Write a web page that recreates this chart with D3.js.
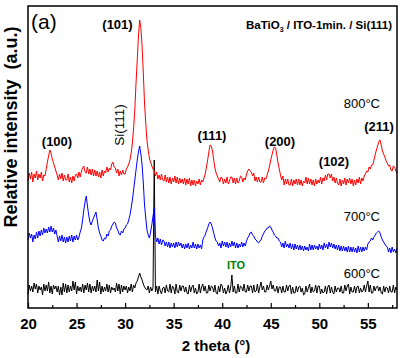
<!DOCTYPE html>
<html>
<head>
<meta charset="utf-8">
<script src="https://cdn.jsdelivr.net/npm/d3@7"></script>
<style>
  body { margin: 0; background: #fff; }
  svg text { font-family: "Liberation Sans", Arial, sans-serif; }
</style>
</head>
<body>
<svg width="400" height="358"></svg>
<script>
// 2 theta grid: 20 .. 58 deg, every 0.125 deg (one row = one degree, 8 values)
const thetaStart = 20;
const thetaStep = 0.125;

// 800 C trace (red)
const red800 = [
  127,135,129,136,126,134,130,137,  128,134,130,136,127,133,132,139,
  146,152,158,155,149,145,141,137,  133,128,134,129,135,127,133,128,
  128,134,126,131,125,132,127,133,  134,130,136,131,137,140,142,136,
  135,141,134,139,133,139,132,138,  132,137,131,136,130,138,132,137,
  135,141,136,140,138,144,146,141,  140,135,139,132,137,133,138,134,
  134,139,141,144,148,155,165,180,  198,225,248,272,288,280,262,235,
  205,185,168,158,150,146,142,139,  137,132,136,129,133,128,134,128,
  127,133,126,131,125,131,124,130,  126,132,125,131,124,130,125,129,
  124,130,123,129,124,130,122,128,  123,128,122,127,124,129,123,128,
  126,130,134,141,148,156,163,162,  157,148,140,135,132,129,126,131,
  130,124,129,125,131,124,127,131,  131,125,130,124,130,125,127,132,
  131,126,130,128,134,137,139,137,  136,132,135,127,131,126,131,126,
  126,131,125,130,129,133,137,142,  148,153,158,161,160,153,145,139,
  133,128,132,123,129,124,129,123,  123,129,122,128,124,129,123,129,
  123,128,122,127,125,131,124,130,  124,129,123,128,122,129,124,128,
  125,131,124,130,127,133,128,134,  134,130,134,127,131,125,130,125,
  123,129,122,128,124,130,123,129,  125,130,124,129,122,128,123,129,
  125,131,124,130,127,132,134,137,  136,141,139,143,143,148,153,158,
  162,166,168,163,157,154,151,147,  145,142,143,138,137,142,141,137,
  135
];

// 700 C trace (blue)
const blue700 = [
  68,75,70,74,66,73,69,76,  70,77,72,78,73,80,75,79,
  75,81,76,82,76,80,74,78,  72,66,72,67,73,66,71,65,
  71,66,72,67,73,66,72,68,  73,68,71,76,80,88,98,106,
  112,102,93,86,83,87,90,93,  96,88,80,75,72,68,67,70,
  69,74,72,77,78,82,84,86,  85,80,78,74,73,77,75,79,
  80,83,84,88,93,100,108,118,  128,138,148,156,162,154,143,125,
  103,90,78,73,70,76,83,92,  100,72,66,70,64,69,63,68,
  67,62,66,61,66,60,65,61,  65,60,66,61,66,62,65,60,
  64,59,64,60,65,59,63,60,  66,60,64,59,64,60,63,59,
  68,71,73,77,80,84,86,84,  80,75,70,67,66,62,65,60,
  67,62,66,61,66,60,65,61,  67,62,66,60,65,60,64,61,
  66,61,65,62,67,70,72,75,  76,73,72,69,68,66,65,67,
  68,72,74,77,78,80,80,82,  81,78,76,73,72,70,70,67,
  66,61,65,60,67,61,64,60,  65,59,64,58,64,59,63,58,
  63,58,62,57,62,58,61,57,  64,58,63,58,63,59,62,58,
  64,59,63,58,65,60,64,59,  66,61,65,60,64,59,63,58,
  63,57,62,57,62,57,61,56,  62,56,61,56,61,56,60,55,
  62,56,61,56,61,57,61,58,  64,66,67,70,68,71,73,75,
  76,77,75,71,68,66,64,62,  61,56,60,55,61,56,59,55,
  60
];

// 600 C trace (black)
const black600 = [
  14,23,17,22,16,25,19,24,  15,22,18,21,13,24,17,23,
  17,26,15,22,14,23,19,22,  16,22,13,21,13,25,16,24,
  15,23,16,22,17,27,18,26,  14,22,17,21,16,24,15,23,
  18,25,16,24,15,22,17,22,  16,28,17,26,14,22,16,21,
  17,24,16,23,15,21,18,20,  16,25,17,24,14,23,16,22,
  18,22,15,21,17,24,16,23,  20,25,27,31,35,31,28,24,
  21,19,18,22,15,21,17,20,  148,16,22,14,22,17,14,20,
  21,15,23,17,16,24,15,22,  20,14,24,16,15,23,17,22,
  22,16,21,15,14,23,16,21,  23,15,20,14,16,24,15,21,
  24,17,22,15,15,23,17,22,  21,16,23,15,14,22,16,24,
  22,15,20,14,17,23,15,21,  33,16,22,15,15,24,16,22,
  21,17,24,16,16,23,17,22,  22,15,23,16,17,24,15,21,
  26,18,22,16,16,23,18,22,  27,19,23,17,17,22,15,21,
  21,15,22,16,16,23,17,22,  23,14,21,15,15,22,16,21,
  22,16,20,13,14,22,16,20,  24,15,21,16,17,23,15,22,
  22,14,19,15,16,22,14,21,  23,15,21,16,14,22,16,20,
  20,16,22,15,15,23,17,22,  24,14,21,16,16,22,15,21,
  22,15,20,16,17,23,16,22,  27,16,23,15,15,22,17,21,
  22,17,21,15,14,22,16,21,  20,15,22,16,16,23,15,21,
  18
];

const majorTicks = [20, 25, 30, 35, 40, 45, 50, 55];
const minorTicks = [22.5, 27.5, 32.5, 37.5, 42.5, 47.5, 52.5, 57.5];

const peakLabels = [
  { text: '(100)', x: 57, y: 146 },
  { text: '(101)', x: 117.5, y: 29 },
  { text: '(111)', x: 212, y: 140 },
  { text: '(200)', x: 280, y: 146 },
  { text: '(102)', x: 334, y: 166 },
  { text: '(211)', x: 379, y: 131 }
];
const tempLabels = [
  { text: '800°C', y: 108 },
  { text: '700°C', y: 221 },
  { text: '600°C', y: 278 }
];

const svg = d3.select('svg');
const width = +svg.attr('width');
const height = +svg.attr('height');
const margin = { top: 6, right: 3, bottom: 50, left: 28 };
const innerWidth = width - margin.left - margin.right;
const innerHeight = height - margin.top - margin.bottom;

const xScale = d3.scaleLinear().domain([20, 58]).range([0, innerWidth]);
const yScale = d3.scaleLinear().domain([0, 302]).range([innerHeight, 0]);

const g = svg.append('g')
  .attr('transform', `translate(${margin.left},${margin.top})`);

const line = d3.line()
  .x((d, i) => xScale(thetaStart + i * thetaStep))
  .y(d => yScale(d));

const series = [
  { values: black600, color: '#000000' },
  { values: blue700, color: '#0000ff' },
  { values: red800, color: '#ff0000' }
];

g.selectAll('path.trace').data(series)
  .enter().append('path')
    .attr('class', 'trace')
    .attr('fill', 'none')
    .attr('stroke', d => d.color)
    .attr('stroke-width', 1)
    .attr('d', d => line(d.values));

// x axis: inward ticks
const xAxisG = g.append('g')
  .attr('transform', `translate(0,${innerHeight})`)
  .call(d3.axisBottom(xScale).tickValues(majorTicks).tickSize(-5).tickPadding(10));
xAxisG.select('.domain').remove();
xAxisG.selectAll('line').attr('stroke', '#000').attr('stroke-width', 1.2);
xAxisG.selectAll('text')
  .attr('fill', '#000')
  .style('font-size', '15px')
  .style('font-weight', 'bold');

const minorG = g.append('g')
  .attr('transform', `translate(0,${innerHeight})`)
  .call(d3.axisBottom(xScale).tickValues(minorTicks).tickSize(-3).tickFormat(''));
minorG.select('.domain').remove();
minorG.selectAll('line').attr('stroke', '#000').attr('stroke-width', 1.2);

// frame
g.append('rect')
  .attr('width', innerWidth)
  .attr('height', innerHeight)
  .attr('fill', 'none')
  .attr('stroke', '#000')
  .attr('stroke-width', 1.5);

// axis labels
svg.append('text')
  .attr('x', 216)
  .attr('y', 351)
  .attr('text-anchor', 'middle')
  .style('font-size', '15px')
  .style('font-weight', 'bold')
  .text('2 theta (°)');

svg.append('text')
  .attr('transform', 'translate(17,127) rotate(-90)')
  .attr('text-anchor', 'middle')
  .style('font-size', '18px')
  .style('font-weight', 'bold')
  .style('white-space', 'pre')
  .text('Relative intensity  (a.u.)');

// annotations
svg.append('text')
  .attr('x', 31).attr('y', 29)
  .style('font-size', '21px')
  .text('(a)');

const title = svg.append('text')
  .attr('x', 392).attr('y', 29)
  .attr('text-anchor', 'end')
  .style('font-size', '11.5px')
  .style('font-weight', 'bold');
title.append('tspan').text('BaTiO');
title.append('tspan').attr('dy', 3).style('font-size', '7px').text('3');
title.append('tspan').attr('dy', -3).text(' / ITO-1min. / Si(111)');

svg.selectAll('text.peak').data(peakLabels)
  .enter().append('text')
    .attr('class', 'peak')
    .attr('x', d => d.x)
    .attr('y', d => d.y)
    .attr('text-anchor', 'middle')
    .style('font-size', '13px')
    .style('font-weight', 'bold')
    .text(d => d.text);

svg.selectAll('text.temp').data(tempLabels)
  .enter().append('text')
    .attr('class', 'temp')
    .attr('x', 380)
    .attr('y', d => d.y)
    .attr('text-anchor', 'end')
    .style('font-size', '13px')
    .text(d => d.text);

svg.append('text')
  .attr('transform', 'translate(124,125) rotate(-90)')
  .attr('text-anchor', 'middle')
  .style('font-size', '13.5px')
  .text('Si(111)');

svg.append('text')
  .attr('x', 236).attr('y', 269)
  .attr('text-anchor', 'middle')
  .attr('fill', '#008000')
  .style('font-size', '11px')
  .style('font-weight', 'bold')
  .text('ITO');
</script>
</body>
</html>
